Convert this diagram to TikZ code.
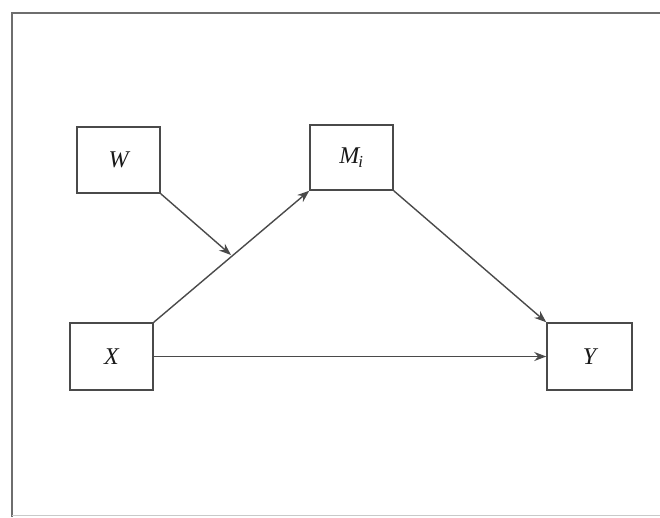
\documentclass[tikz,border=0pt]{standalone}
\usepackage{fontspec}
\setmainfont{Liberation Serif}
\usetikzlibrary{arrows.meta}
\definecolor{ln}{HTML}{4A4A4A}
\newcommand{\lbl}[1]{\fontsize{24}{28}\selectfont\itshape #1}
\tikzset{
  varbox/.style={draw=ln, line width=1.5pt, minimum width=83pt, minimum height=66pt, inner sep=0pt, text=black!90},
  conn/.style={draw=ln, line width=1.4pt, -{Stealth[length=12pt,width=9pt]}},
  frame/.style={draw=ln!80, line width=1.2pt}
}
\begin{document}
\begin{tikzpicture}[x=1pt,y=-1pt]
\useasboundingbox (0,0) rectangle (660,517);
\draw[frame] (12,517) -- (12,13) -- (660,13);
\draw[draw=ln!30, line width=0.8pt] (12,515) -- (660,515);
\node[varbox] (W) at (118.5,160) {\lbl{W}};
\node[varbox, minimum height=65pt] (M) at (351.5,157.5) {\lbl{M\textsubscript{\kern-1pt i}}};
\node[varbox, minimum height=67pt] (X) at (111.5,356.5) {\lbl{X}};
\node[varbox, minimum width=85pt, minimum height=67pt] (Y) at (589.5,356.5) {\lbl{Y}};
\coordinate (J) at (231,255);
\draw[conn] (X.north east) -- (M.south west);
\draw[conn] (W.south east) -- (J);
\draw[conn] (M.south east) -- (Y.north west);
\draw[conn] (X.east) -- (Y.west);
\end{tikzpicture}
\end{document}
